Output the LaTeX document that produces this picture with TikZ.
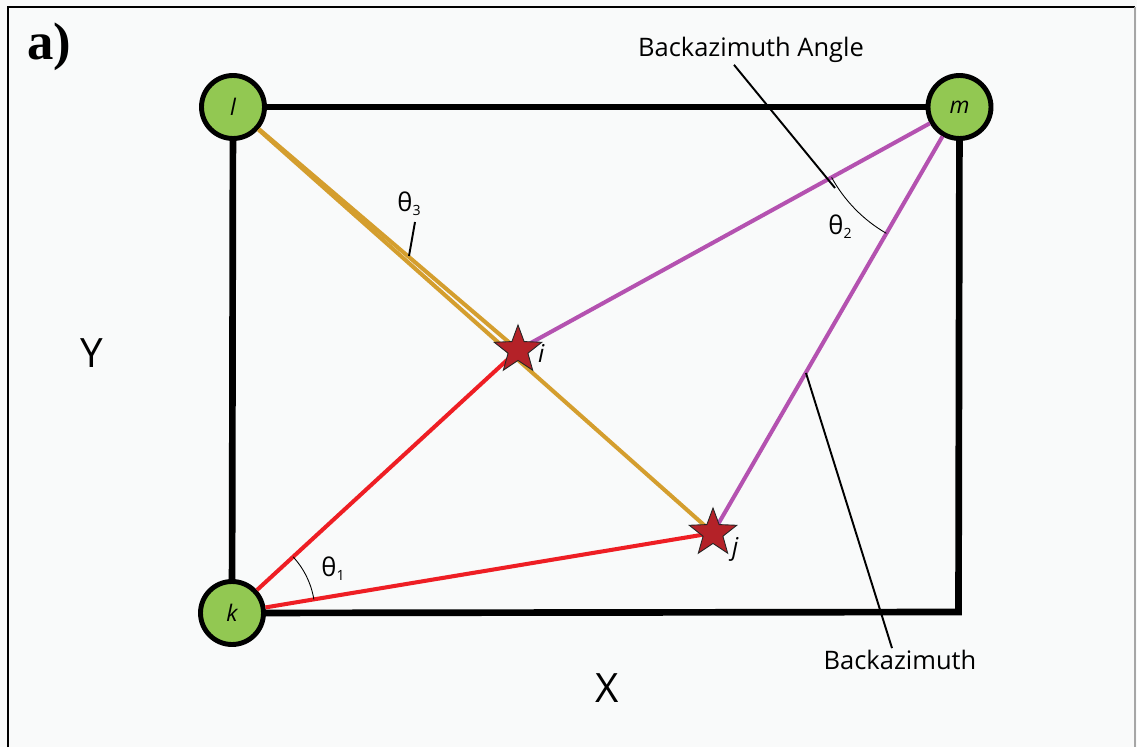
\documentclass[tikz,border=0pt]{standalone}
\usepackage{fontspec}
\setmainfont{Open Sans}
\newfontfamily\panelfont{Liberation Serif}
\usetikzlibrary{shapes.geometric,angles}
\definecolor{stationgreen}{RGB}{146,200,82}
\definecolor{pathgold}{RGB}{212,158,46}
\definecolor{pathpurple}{RGB}{180,82,176}
\definecolor{pathred}{RGB}{238,30,36}
\definecolor{eventred}{RGB}{180,34,40}
\definecolor{paper}{RGB}{249,250,250}
\newcommand{\thetasub}[1]{θ\raisebox{-0.3ex}{\fontsize{8}{9}\selectfont #1}}

\begin{document}
\begin{tikzpicture}[
        station/.style={circle,draw=black,line width=2.8pt,fill=stationgreen,minimum size=1.26cm,inner sep=0pt,font=\itshape\fontsize{13}{15}\selectfont},
        event/.style={star,star points=5,star point ratio=2.4,draw=black!85,line width=0.5pt,fill=eventred,minimum size=1.0cm,inner sep=0pt},
        side/.style={line width=3.8pt,line join=miter},
        ray/.style={line width=2.3pt},
        leader/.style={line width=1.1pt},
        anglemark/.style={draw,line width=0.5pt},
        caption/.style={font=\fontsize{14.5}{17}\selectfont,inner sep=1pt},
        axis/.style={font=\fontsize{23}{27}\selectfont}]
            \useasboundingbox[fill=paper] (0,0) rectangle (22.74,14.94);
            \draw[line width=1.2pt] (0.16,0) -- (0.16,14.80) -- (22.70,14.80);
            \draw[line width=1pt,black!35] (22.70,14.80) -- (22.70,0);
            \node[font=\panelfont\bfseries\fontsize{30}{34}\selectfont] (panel) at (0.98,14.00) {a)};
            \node[station] (l) at (4.66,12.80) {l};
            \node[station] (m) at (19.19,12.80) {m};
            \node[station] (k) at (4.64,2.68) {k};
            \coordinate (c) at (19.17,2.70);
            \coordinate (i) at (10.36,7.94);
            \coordinate (j) at (14.26,4.28);
            \draw[side] (l) -- (m);
            \draw[side] (l) -- (k);
            \draw[side] (k) -- (c) -- (m);
            \draw[ray,pathgold] (l) -- (i);
            \draw[ray,pathgold] (l) -- (j);
            \draw[ray,pathpurple] (m) -- (i);
            \draw[ray,pathpurple] (m) -- (j);
            \draw[ray,pathred] (k) -- (i);
            \draw[ray,pathred] (k) -- (j);
            \node[event] (istar) at (i) {};
            \node[event] (jstar) at (j) {};
            \node[font=\itshape\fontsize{14}{16}\selectfont,anchor=west] (ilabel) at (10.64,7.88) {i};
            \node[font=\itshape\fontsize{14}{16}\selectfont,anchor=west] (jlabel) at (14.52,3.96) {j};
            \pic[anglemark,angle radius=1.66cm] {angle=j--k--i};
            \pic[anglemark,angle radius=2.92cm] {angle=i--m--j};
            \node[caption] (t1) at (6.66,3.56) {\thetasub{1}};
            \node[caption] (t2) at (16.80,10.40) {\thetasub{2}};
            \node[caption] (t3) at (8.18,10.86) {\thetasub{3}};
            \coordinate (t3tip) at (8.18,9.82);
            \draw[leader] (8.30,10.50) -- (t3tip);
            \node[caption] (angtext) at (15.02,13.94) {Backazimuth Angle};
            \coordinate (angtip) at (16.70,11.18);
            \draw[leader] ([xshift=-0.34cm]angtext.south) -- (angtip);
            \node[caption] (baztext) at (18.00,1.74) {Backazimuth};
            \coordinate (baztip) at (16.12,7.48);
            \draw[leader] (baztip) -- ([xshift=-0.16cm]baztext.north);
            \node[axis] (ylabel) at (1.84,7.88) {Y};
            \node[axis] (xlabel) at (12.14,1.18) {X};
        \end{tikzpicture}
\end{document}
